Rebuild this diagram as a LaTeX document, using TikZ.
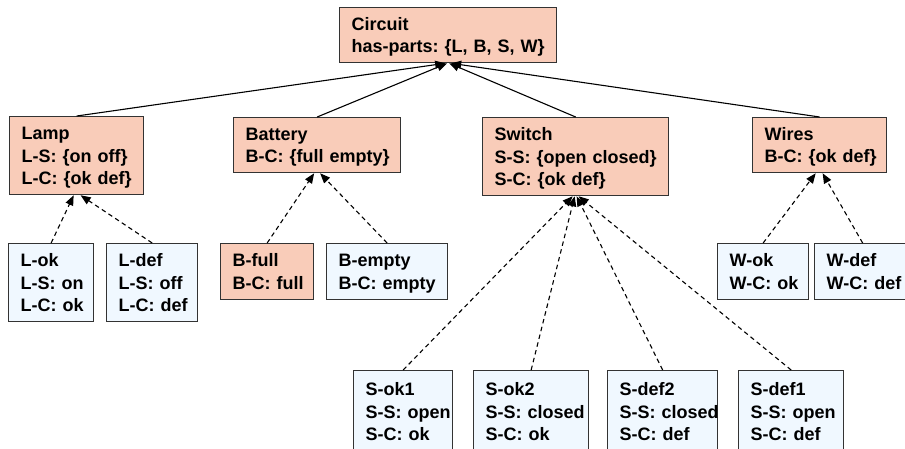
\documentclass[tikz,border=0pt]{standalone}
\usepackage{fontspec}
\setmainfont{Liberation Sans}
\usetikzlibrary{arrows.meta}

\definecolor{classfill}{HTML}{F9CCB9}
\definecolor{instfill}{HTML}{F0F8FF}
\definecolor{boxline}{HTML}{333333}

% left-aligned block of lines that never wraps, set a little low in its box
\newcommand\rowsof[1]{\noindent\raisebox{-2pt}[\height][\depth]{\begin{tabular}{@{}l@{}}#1\end{tabular}}}

\tikzset{
  box/.style={draw=boxline, line width=1.3pt, anchor=north west,
    inner xsep=12pt, inner ysep=0pt, align=left,
    font=\bfseries\frenchspacing\fontsize{18}{22.5}\selectfont},
  classbox/.style={box, fill=classfill},
  instbox/.style={box, fill=instfill},
  isa/.style={-{Triangle[length=10pt,width=8pt]}, line width=1.1pt},
  inst/.style={isa, dash pattern=on 4.5pt off 3.5pt},
}

\begin{document}
\begin{tikzpicture}[x=1pt,y=-1pt]
\useasboundingbox (0,0) rectangle (905,448);
\clip (0,0) rectangle (905,448);

% top level
\node[classbox, text width=193pt, minimum height=55pt] (circuit) at (339,7)
  {\rowsof{Circuit\\has-parts: \{L, B, S, W\}}};

% components
\node[classbox, text width=110pt, minimum height=78pt] (lamp) at (9,116)
  {\rowsof{Lamp\\L-S: \{on off\}\\L-C: \{ok def\}}};
\node[classbox, text width=143pt, minimum height=55pt] (battery) at (233,117)
  {\rowsof{Battery\\B-C: \{full empty\}}};
\node[classbox, text width=162pt, minimum height=78pt] (switch) at (482,117)
  {\rowsof{Switch\\S-S: \{open closed\}\\S-C: \{ok def\}}};
\node[classbox, text width=110pt, minimum height=55pt] (wires) at (752,117)
  {\rowsof{Wires\\B-C: \{ok def\}}};

% lamp states
\node[instbox, text width=61pt, minimum height=78pt] (lok) at (8,243)
  {\rowsof{L-ok\\L-S: on\\L-C: ok}};
\node[instbox, text width=67pt, minimum height=78pt] (ldef) at (106,243)
  {\rowsof{L-def\\L-S: off\\L-C: def}};

% battery states
\node[classbox, text width=69pt, minimum height=56pt] (bfull) at (220,243)
  {\rowsof{B-full\\B-C: full}};
\node[instbox, text width=97pt, minimum height=56pt] (bempty) at (326,243)
  {\rowsof{B-empty\\B-C: empty}};

% wire states
\node[instbox, text width=67pt, minimum height=56pt] (wok) at (717,243)
  {\rowsof{W-ok\\W-C: ok}};
\node[instbox, text width=72pt, minimum height=56pt] (wdef) at (814,243)
  {\rowsof{W-def\\W-C: def}};

% switch states
\node[instbox, text width=75pt, minimum height=82pt] (sok1) at (353,370)
  {\rowsof{S-ok1\\S-S: open\\S-C: ok}};
\node[instbox, text width=91pt, minimum height=82pt] (sok2) at (473,370)
  {\rowsof{S-ok2\\S-S: closed\\S-C: ok}};
\node[instbox, text width=86pt, minimum height=82pt] (sdef2) at (607,370)
  {\rowsof{S-def2\\S-S: closed\\S-C: def}};
\node[instbox, text width=81pt, minimum height=82pt] (sdef1) at (738,370)
  {\rowsof{S-def1\\S-S: open\\S-C: def}};

% part-of links
\draw[isa] (lamp.north)    -- ([xshift=-3pt]circuit.south);
\draw[isa] (battery.north) -- ([xshift=-1pt]circuit.south);
\draw[isa] (switch.north)  -- ([xshift=1pt]circuit.south);
\draw[isa] (wires.north)   -- ([xshift=3pt]circuit.south);

% state links
\draw[inst] (lok.north)    -- ([xshift=-3pt]lamp.south);
\draw[inst] (ldef.north)   -- ([xshift=4pt]lamp.south);
\draw[inst] (bfull.north)  -- ([xshift=-3pt]battery.south);
\draw[inst] (bempty.north) -- ([xshift=3pt]battery.south);
\draw[inst] (wok.north)    -- ([xshift=-4pt]wires.south);
\draw[inst] (wdef.north)   -- ([xshift=3pt]wires.south);
\draw[inst] (sok1.north)   -- ([xshift=-3pt]switch.south);
\draw[inst] (sok2.north)   -- ([xshift=-1pt]switch.south);
\draw[inst] (sdef2.north)  -- ([xshift=1pt]switch.south);
\draw[inst] (sdef1.north)  -- ([xshift=3pt]switch.south);
\end{tikzpicture}
\end{document}
